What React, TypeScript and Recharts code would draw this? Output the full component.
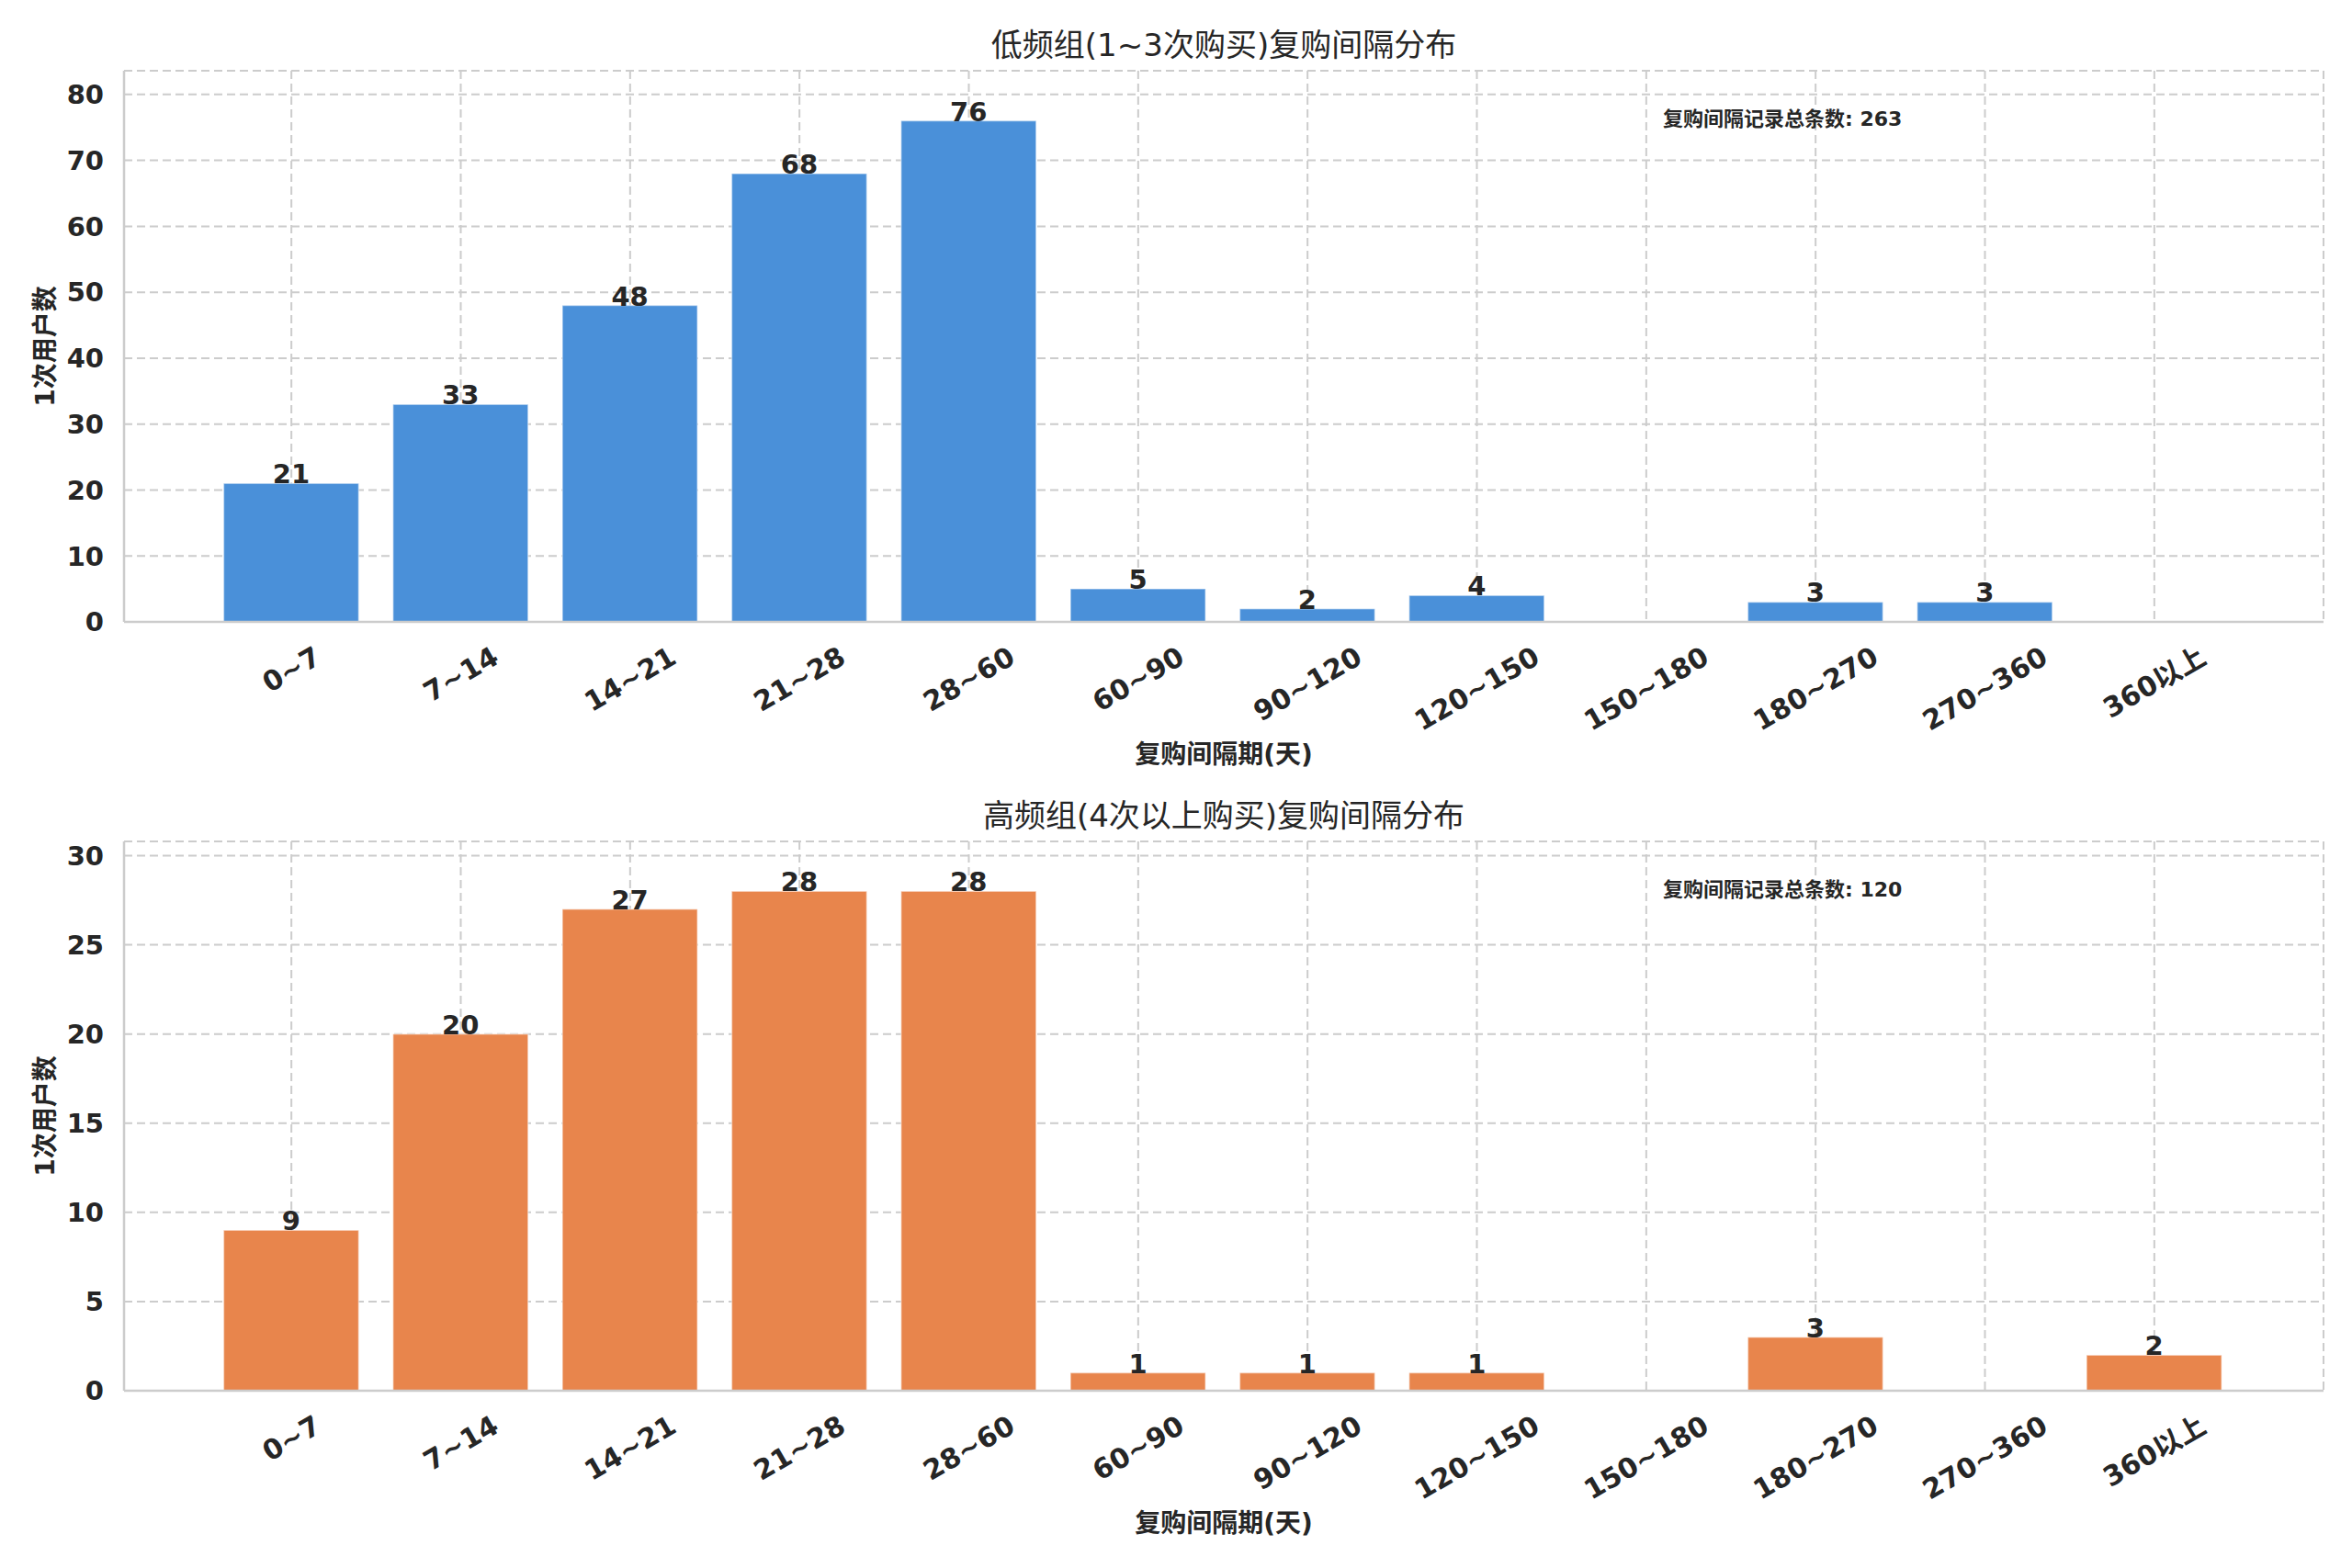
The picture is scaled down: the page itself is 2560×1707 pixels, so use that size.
import { BarChart, Bar, XAxis, YAxis, CartesianGrid, LabelList } from "recharts";

const CATEGORIES = [
  "0~7",
  "7~14",
  "14~21",
  "21~28",
  "28~60",
  "60~90",
  "90~120",
  "120~150",
  "150~180",
  "180~270",
  "270~360",
  "360以上",
];
const SHORT_COUNTS = [21, 33, 48, 68, 76, 5, 2, 4, 0, 3, 3, 0];
const LONG_COUNTS = [9, 20, 27, 28, 28, 1, 1, 1, 0, 3, 0, 2];
const SHORT_TICKS = [0, 10, 20, 30, 40, 50, 60, 70, 80];
const LONG_TICKS = [0, 5, 10, 15, 20, 25, 30];

const FONT = "'DejaVu Sans', 'Noto Sans CJK SC', sans-serif";
const INK = "#262626";
const SPINE = "#cccccc";
const W = 2560;
const PLOT_LEFT = 135;
const PLOT_RIGHT = 2529;
const TICK_FS = 29;
const XTICK_FS = 30;

// rough DejaVu Sans Bold advance widths, to place rotated labels like matplotlib (va=top)
function textWidth(s: string, fs: number) {
  let w = 0;
  for (const ch of s) {
    if (/[0-9]/.test(ch)) w += 0.696;
    else if (ch === "~") w += 0.838;
    else w += 1.0;
  }
  return w * fs;
}

function RotatedTick(props: any) {
  const { x, y, payload } = props;
  const label = String(payload.value);
  const w = textWidth(label, XTICK_FS);
  const h = XTICK_FS * 1.16;
  const bboxH = w * 0.5 + h * 0.866;
  const cy = y + 20 + bboxH / 2;
  return (
    <text
      x={x}
      y={cy}
      textAnchor="middle"
      dominantBaseline="central"
      transform={`rotate(-30 ${x} ${cy})`}
      fontFamily={FONT}
      fontSize={XTICK_FS}
      fontWeight="bold"
      fill={INK}
    >
      {label}
    </text>
  );
}

interface PanelProps {
  title: string;
  values: number[];
  color: string;
  ticks: number[];
  height: number;
  plotTop: number;
  plotBottom: number;
}

function Panel({ title, values, color, ticks, height, plotTop, plotBottom }: PanelProps) {
  const data = CATEGORIES.map((c, i) => ({ range: c, count: values[i] }));
  const total = values.reduce((a, b) => a + b, 0);
  const yMax = Math.max(...values) * 1.1;
  const xAxisH = 120;
  const yAxisW = 100;
  const midX = (PLOT_LEFT + PLOT_RIGHT) / 2;
  const midY = (plotTop + plotBottom) / 2;

  return (
    <div style={{ position: "relative", width: W, height }}>
      <BarChart
        width={W}
        height={height}
        data={data}
        barCategoryGap="10%"
        margin={{
          top: plotTop,
          right: W - PLOT_RIGHT,
          bottom: height - plotBottom - xAxisH,
          left: PLOT_LEFT - yAxisW,
        }}
      >
        <CartesianGrid stroke={SPINE} strokeWidth={2} strokeDasharray="9 5" />
        <XAxis
          dataKey="range"
          height={xAxisH}
          padding={{ left: 90, right: 92 }}
          interval={0}
          tickLine={false}
          tickSize={0}
          tickMargin={0}
          axisLine={{ stroke: SPINE, strokeWidth: 2.5 }}
          tick={<RotatedTick />}
        />
        <XAxis
          xAxisId="top"
          orientation="top"
          dataKey="range"
          height={0}
          padding={{ left: 90, right: 92 }}
          tick={false}
          tickLine={false}
          axisLine={{ stroke: SPINE, strokeWidth: 2.5 }}
        />
        <YAxis
          width={yAxisW}
          domain={[0, yMax]}
          ticks={ticks}
          allowDataOverflow
          tickLine={false}
          tickSize={0}
          tickMargin={22}
          axisLine={{ stroke: SPINE, strokeWidth: 2.5 }}
          tick={{ fontFamily: FONT, fontSize: TICK_FS, fontWeight: "bold", fill: INK }}
        />
        <YAxis
          yAxisId="right"
          orientation="right"
          width={0}
          domain={[0, yMax]}
          tick={false}
          tickLine={false}
          axisLine={{ stroke: SPINE, strokeWidth: 2.5 }}
        />
        <Bar
          dataKey="count"
          fill={color}
          stroke="#ffffff"
          strokeOpacity={0.45}
          strokeWidth={1.5}
          isAnimationActive={false}
        >
          <LabelList
            dataKey="count"
            position="top"
            offset={0}
            formatter={(v: any) => (v > 0 ? v : "")}
            style={{ fontFamily: FONT, fontSize: TICK_FS, fontWeight: "bold", fill: INK }}
          />
        </Bar>
      </BarChart>
      <svg
        width={W}
        height={height}
        style={{ position: "absolute", left: 0, top: 0, pointerEvents: "none" }}
        fontFamily={FONT}
        fill={INK}
      >
        <text x={midX} y={plotTop - 16} textAnchor="middle" fontSize={34}>
          {title}
        </text>
        <text x={1810} y={plotTop + 60} fontSize={22} fontWeight="bold">
          {`复购间隔记录总条数: ${total}`}
        </text>
        <text x={midX} y={plotBottom + 154} textAnchor="middle" fontSize={28} fontWeight="bold">
          复购间隔期(天)
        </text>
        <text
          x={49}
          y={midY}
          textAnchor="middle"
          dominantBaseline="central"
          fontSize={28}
          fontWeight="bold"
          transform={`rotate(-90 49 ${midY})`}
        >
          1次用户数
        </text>
      </svg>
    </div>
  );
}

export default function App() {
  return (
    <div style={{ width: W, height: 1707, background: "#ffffff" }}>
      <style>{`body{margin:0;}`}</style>
      <Panel
        title="低频组(1~3次购买)复购间隔分布"
        values={SHORT_COUNTS}
        color="#4a90d9"
        ticks={SHORT_TICKS}
        height={853}
        plotTop={77}
        plotBottom={677}
      />
      <Panel
        title="高频组(4次以上购买)复购间隔分布"
        values={LONG_COUNTS}
        color="#e8854c"
        ticks={LONG_TICKS}
        height={854}
        plotTop={63}
        plotBottom={661}
      />
    </div>
  );
}
